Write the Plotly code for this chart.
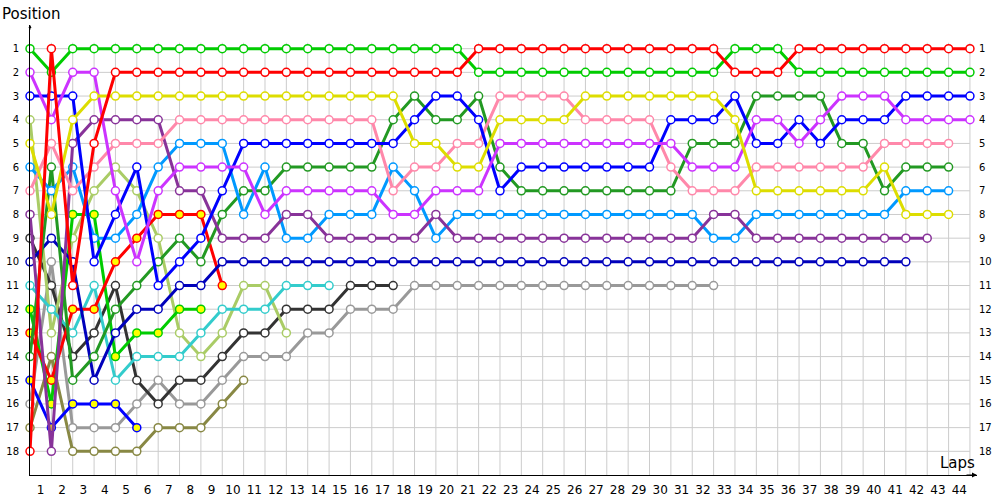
import plotly.graph_objects as go

laps_labels = [str(k) for k in range(1, 45)]
positions = list(range(1, 19))

# positions per lap, starting at lap 0 (grid)
red_a = [18, 1, 11, 5] + [2] * 17 + [1] * 12 + [2] * 3 + [1] * 9
green_a = [1, 2] + [1] * 19 + [2] * 12 + [1] * 3 + [2] * 9
yellow = [5, 8, 4] + [3] * 15 + [5, 5, 6, 6] + [4] * 4 + [3] * 7 + [4] + [7] * 6 + [6] + [8] * 3
violet = [2, 4, 2, 2, 7, 10, 7, 6, 6, 6, 6, 8] + [7] * 5 + [8, 8] + [7] * 3 + [5] * 9 + [6] * 3 + [4, 4, 5, 4, 3, 3, 3] + [4] * 4
blue = [3, 3, 3, 10, 8, 6, 11, 10, 9, 7] + [5] * 8 + [4, 3, 3, 4, 7] + [6] * 7 + [4] * 3 + [3, 5, 5, 4, 5, 4, 4, 4] + [3] * 4
pink = [7, 5, 7, 6, 5, 5, 5] + [4] * 10 + [7, 6, 6, 5, 5] + [3] * 4 + [4] * 4 + [6] + [7] * 3 + [6] * 6 + [5] * 4
purple = [8, 18, 5, 4, 4, 4, 4, 7, 7, 9, 9, 9, 8, 8] + [9] * 5 + [8] + [9] * 12 + [8, 8] + [9] * 9
light_blue = [6, 7, 6, 9, 9, 8, 6, 5, 5, 5, 8, 6, 9, 9, 8, 8, 8, 6, 7, 9] + [8] * 12 + [9, 9] + [8] * 7 + [7] * 3
dark_green = [14, 6, 15, 14, 12, 11, 10, 9, 10, 8, 7, 7] + [6] * 5 + [4, 3, 4, 4, 3, 6] + [7] * 8 + [5] * 3 + [3] * 4 + [5, 5, 7] + [6] * 3
navy = [10, 9, 10, 15, 13, 12, 12, 11, 11] + [10] * 33
red_b = [13, 15, 12, 12, 10, 9, 8, 8, 8, 11]
green_b = [12, 16, 8, 8, 14, 13, 13, 12, 12]
blue_b = [15, 17, 16, 16, 16, 17]
cyan = [11, 12, 13, 11, 15, 14, 14, 14, 13, 12, 12, 12, 11, 11, 11]
light_olive = [4, 13, 9, 7, 6, 7, 9, 13, 14, 13, 11, 11, 13]
black = [9, 11, 14, 13, 11, 15, 16, 15, 15, 14, 13, 13, 12, 12, 12, 11, 11, 11]
gray = [16, 10, 17, 17, 17, 16, 15, 16, 16, 15, 14, 14, 14, 13, 13, 12, 12, 12] + [11] * 15
olive = [17, 14, 18, 18, 18, 18, 17, 17, 17, 16, 15]

series = [
    (olive, "#888844", "white"),
    (gray, "#999999", "white"),
    (black, "#333333", "white"),
    (light_olive, "#aacc66", "white"),
    (cyan, "#33cccc", "white"),
    (blue_b, "#0000ff", "#ffff00"),
    (green_b, "#00cc00", "#ffff00"),
    (red_b, "#ff0000", "#ffff00"),
    (navy, "#0000bb", "white"),
    (dark_green, "#229922", "white"),
    (light_blue, "#0099ff", "white"),
    (purple, "#883399", "white"),
    (pink, "#ff88aa", "white"),
    (blue, "#0000ff", "white"),
    (violet, "#cc33ff", "white"),
    (yellow, "#dddd00", "white"),
    (green_a, "#00cc00", "white"),
    (red_a, "#ff0000", "white"),
]

fig = go.Figure()

# grid
shapes = []
for k in range(1, 45):
    shapes.append(dict(type="line", xref="x", yref="y", x0=k, x1=k, y0=0.75, y1=19,
                       line=dict(color="#cccccc", width=1), layer="below"))
for p in positions:
    shapes.append(dict(type="line", xref="x", yref="y", x0=0, x1=44, y0=p, y1=p,
                       line=dict(color="#cccccc", width=1), layer="below"))

for vals, col, fill in series:
    fig.add_trace(go.Scatter(
        x=list(range(len(vals))), y=vals, mode="lines+markers",
        line=dict(color=col, width=3),
        marker=dict(symbol="circle", size=8, color=fill, line=dict(color=col, width=1.5)),
        showlegend=False, hoverinfo="skip", cliponaxis=False,
    ))

# invisible trace for right axis
fig.add_trace(go.Scatter(x=[0], y=[1], yaxis="y2", mode="markers",
                         marker=dict(opacity=0), showlegend=False, hoverinfo="skip"))

fig.update_layout(
    width=1000, height=500,
    margin=dict(l=30, r=23, t=25, b=25, autoexpand=False),
    paper_bgcolor="white", plot_bgcolor="white",
    shapes=shapes,
    xaxis=dict(range=[0, 44.33], showgrid=False, zeroline=False, automargin=False,
               tickvals=[k - 0.5 for k in range(1, 45)], ticktext=laps_labels,
               ticks="", tickfont=dict(family="DejaVu Sans", size=12, color="black"),
               showline=True, linecolor="black", linewidth=1, ticklabelstandoff=4),
    yaxis=dict(range=[19, 0], showgrid=False, zeroline=False, automargin=False,
               tickvals=positions, ticktext=[str(p) for p in positions],
               ticks="", tickfont=dict(family="DejaVu Sans", size=10, color="black"),
               showline=True, linecolor="black", linewidth=1, ticklabelstandoff=8),
    yaxis2=dict(range=[19, 0], overlaying="y", side="right", showgrid=False,
                zeroline=False, automargin=False, tickvals=positions,
                ticktext=[str(p) for p in positions],
                ticks="", tickfont=dict(family="DejaVu Sans", size=10, color="black"),
                showline=False, ticklabelstandoff=1),
    annotations=[
        dict(text="Position", xref="paper", yref="paper", x=-30 / 947, y=1,
             xanchor="left", yanchor="bottom", showarrow=False,
             font=dict(family="DejaVu Sans", size=15, color="black")),
        dict(text="Laps", xref="paper", yref="paper", x=1, y=0,
             xanchor="right", yanchor="bottom", yshift=1, showarrow=False,
             font=dict(family="DejaVu Sans", size=15, color="black")),
        dict(text="", xref="paper", yref="paper", x=1, y=0, ax=-12, ay=0,
             showarrow=True, arrowhead=2, arrowsize=1, arrowwidth=1, arrowcolor="black"),
        dict(text="", xref="paper", yref="paper", x=0, y=1, ax=0, ay=6,
             showarrow=True, arrowhead=2, arrowsize=0.6, arrowwidth=1, arrowcolor="black"),
    ],
)

fig.write_html("out.html", config={"displayModeBar": False},
               post_script="document.body.style.margin='0';document.body.style.padding='0';")
